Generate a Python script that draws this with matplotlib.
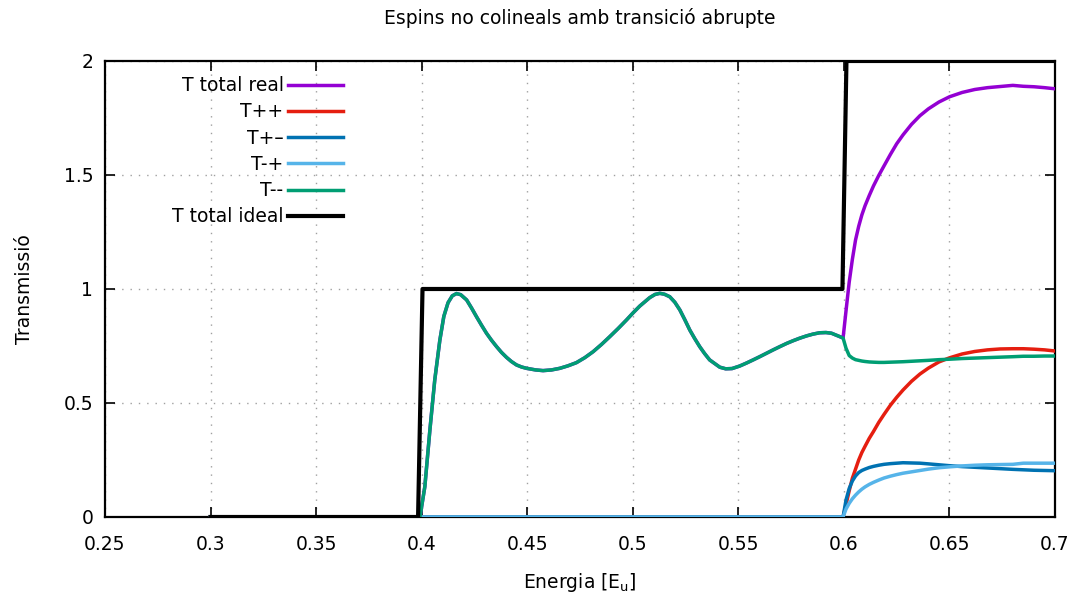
import matplotlib
matplotlib.use('Agg')
import matplotlib.pyplot as plt

# --- data ---------------------------------------------------------------------
# single-channel window (0.3 - 0.6): only T-- transmits, so T total real == T--
e_low = [0.3000, 0.3992, 0.4015, 0.4039, 0.4062, 0.4086, 0.4105, 0.4125, 0.4145,
         0.4165, 0.4185, 0.4213, 0.4236, 0.4260, 0.4283, 0.4307, 0.4331, 0.4355,
         0.4378, 0.4402, 0.4425, 0.4449, 0.4473, 0.4497, 0.4540, 0.4575, 0.4615,
         0.4654, 0.4693, 0.4733, 0.4773, 0.4812, 0.4852, 0.4891, 0.4931, 0.4970,
         0.5002, 0.5033, 0.5080, 0.5105, 0.5128, 0.5150, 0.5175, 0.5199, 0.5223,
         0.5246, 0.5270, 0.5293, 0.5317, 0.5340, 0.5364, 0.5412, 0.5440, 0.5470,
         0.5506, 0.5538, 0.5570, 0.5601, 0.5633, 0.5665, 0.5696, 0.5728, 0.5759,
         0.5790, 0.5822, 0.5853, 0.5885, 0.5915, 0.5941, 0.5970]
t_low = [0.000, 0.000, 0.133, 0.382, 0.601, 0.775, 0.880, 0.940, 0.970,
         0.980, 0.975, 0.952, 0.917, 0.878, 0.842, 0.806, 0.775, 0.747,
         0.722, 0.700, 0.682, 0.667, 0.658, 0.652, 0.645, 0.642, 0.645,
         0.652, 0.663, 0.677, 0.699, 0.725, 0.757, 0.791, 0.827, 0.864,
         0.896, 0.925, 0.962, 0.976, 0.981, 0.977, 0.966, 0.942, 0.908,
         0.866, 0.820, 0.783, 0.747, 0.717, 0.689, 0.657, 0.650, 0.651,
         0.662, 0.675, 0.689, 0.703, 0.718, 0.733, 0.747, 0.761, 0.773,
         0.784, 0.794, 0.802, 0.808, 0.809, 0.806, 0.795]

# above 0.6 all four spin channels are open
e_high = [0.5996, 0.6010, 0.6025, 0.6040, 0.6055, 0.6070, 0.6085, 0.6100, 0.612,
          0.614, 0.6165, 0.619, 0.622, 0.625, 0.628, 0.632, 0.636, 0.640, 0.645,
          0.650, 0.656, 0.662, 0.668, 0.674, 0.680, 0.685, 0.690, 0.695, 0.700]
t_real_high = [0.785, 0.905, 1.030, 1.130, 1.215, 1.275, 1.325, 1.365, 1.410,
               1.452, 1.498, 1.540, 1.590, 1.637, 1.676, 1.722, 1.760, 1.790, 1.820,
               1.843, 1.862, 1.875, 1.883, 1.888, 1.893, 1.889, 1.887, 1.883, 1.878]
t_pp = [0.000, 0.055, 0.115, 0.170, 0.210, 0.250, 0.283, 0.310, 0.345,
        0.375, 0.415, 0.450, 0.490, 0.525, 0.557, 0.595, 0.627, 0.653, 0.680,
        0.698, 0.715, 0.726, 0.733, 0.737, 0.738, 0.738, 0.736, 0.733, 0.728]
t_pm = [0.000, 0.075, 0.125, 0.158, 0.180, 0.195, 0.204, 0.210, 0.217,
        0.222, 0.227, 0.231, 0.234, 0.236, 0.238, 0.237, 0.236, 0.233, 0.229,
        0.225, 0.221, 0.218, 0.215, 0.212, 0.209, 0.207, 0.205, 0.204, 0.203]
t_mp = [0.000, 0.035, 0.060, 0.080, 0.096, 0.110, 0.122, 0.132, 0.143,
        0.152, 0.162, 0.171, 0.179, 0.186, 0.192, 0.198, 0.204, 0.210, 0.216,
        0.220, 0.224, 0.227, 0.229, 0.230, 0.231, 0.236, 0.236, 0.236, 0.236]
t_mm_high = [0.785, 0.740, 0.708, 0.697, 0.690, 0.687, 0.684, 0.682, 0.680,
             0.679, 0.678, 0.678, 0.679, 0.680, 0.681, 0.683, 0.685, 0.687, 0.690,
             0.692, 0.695, 0.697, 0.699, 0.701, 0.703, 0.705, 0.705, 0.706, 0.706]

# closed channels sit at zero until the 0.6 threshold
e_closed = [0.3, 0.5996]
t_closed = [0.0, 0.0]

# ideal step transmission
e_ideal = [0.3, 0.3983, 0.4004, 0.5993, 0.6012, 0.7]
t_ideal = [0, 0, 1, 1, 2, 2]

x_ticks = [0.25, 0.3, 0.35, 0.4, 0.45, 0.5, 0.55, 0.6, 0.65, 0.7]
x_ticklabels = ['0.25', '0.3', '0.35', '0.4', '0.45', '0.5', '0.55', '0.6', '0.65', '0.7']
y_ticks = [0, 0.5, 1, 1.5, 2]
y_ticklabels = ['0', '0.5', '1', '1.5', '2']

COLORS = {
    'real': '#9400D3',
    'pp': '#E51E10',
    'pm': '#0072B2',
    'mp': '#56B4E9',
    'mm': '#009E73',
    'ideal': '#000000',
}

FS = 13.5
plt.rcParams['font.family'] = ['DejaVu Sans']
plt.rcParams['font.size'] = FS

fig = plt.figure(figsize=(10.8, 6.02), dpi=100)
ax = fig.add_axes([0.0972, 0.1412, 0.8797, 0.7575])

lw = 2.5
ax.plot(e_low + e_high, t_low + t_real_high, color=COLORS['real'], lw=lw,
        label='T total real', zorder=3)
ax.plot(e_closed + e_high[1:], t_closed + t_pp[1:], color=COLORS['pp'], lw=lw,
        label='T++', zorder=4)
ax.plot(e_closed + e_high[1:], t_closed + t_pm[1:], color=COLORS['pm'], lw=lw,
        label='T+\u2013', zorder=5)
ax.plot(e_closed + e_high[1:], t_closed + t_mp[1:], color=COLORS['mp'], lw=lw,
        label='T-+', zorder=6)
ax.plot(e_low + e_high, t_low + t_mm_high, color=COLORS['mm'], lw=lw,
        label='T--', zorder=7)
ax.plot(e_ideal, t_ideal, color=COLORS['ideal'], lw=3.0,
        label='T total ideal', zorder=8)

ax.set_xlim(0.25, 0.7)
ax.set_ylim(0, 2)
ax.set_xticks(x_ticks)
ax.set_xticklabels(x_ticklabels)
ax.set_yticks(y_ticks)
ax.set_yticklabels(y_ticklabels)

ax.tick_params(direction='in', length=7, width=1.2, top=True, right=True,
               labelsize=FS)
ax.tick_params(axis='x', pad=13)
ax.tick_params(axis='y', pad=8.5)
for s in ax.spines.values():
    s.set_linewidth(1.6)

ax.grid(True, color='#a0a0a0', linestyle=(0, (1, 5)), linewidth=1.0, zorder=0)
ax.set_axisbelow(True)

ax.set_title('Espins no colineals amb transició abrupte', fontsize=FS, pad=26.5)
ax.set_xlabel('Energia [E$_\\mathrm{u}$]', fontsize=FS, labelpad=12.5)
ax.set_ylabel('Transmissió', fontsize=FS, labelpad=21)

ax.legend(loc='upper right', bbox_to_anchor=(0.258, 0.983), frameon=False,
          markerfirst=False, handlelength=2.9, handletextpad=0.25,
          labelspacing=0.385, borderaxespad=0, fontsize=FS)

fig.savefig('out.png', dpi=100)
